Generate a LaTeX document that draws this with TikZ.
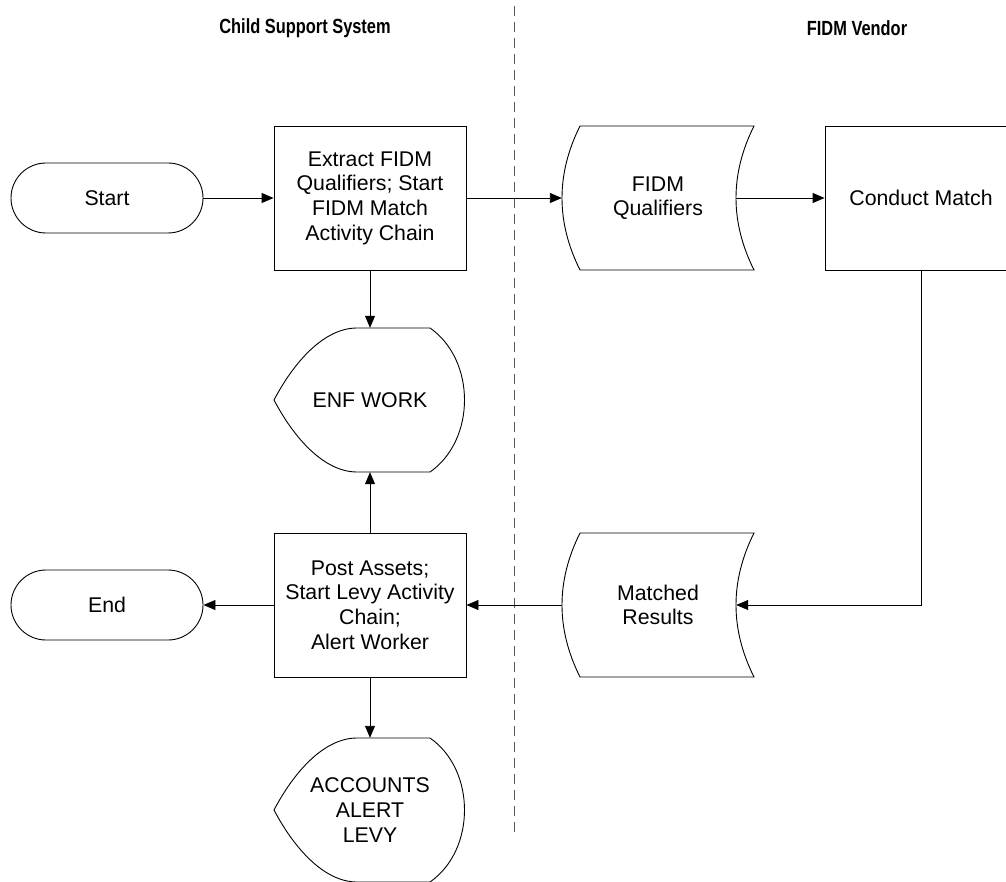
\documentclass[tikz,border=0pt]{standalone}
\usepackage{fontspec}
\setmainfont{Liberation Sans}
\newfontfamily\headfont[FakeStretch=0.8]{Liberation Sans}
\usetikzlibrary{arrows.meta,calc}
\begin{document}
\begin{tikzpicture}[x=1pt,y=-1pt,
  txt/.style={align=center, inner sep=0pt, font=\fontsize{21.3}{24.6}\selectfont},
  proc/.style={txt, draw, line width=0.9pt, minimum width=192pt, minimum height=144pt},
  term/.style={txt, draw, line width=0.9pt, rounded corners=35pt, minimum width=192pt, minimum height=70pt},
  free/.style={txt, minimum width=192pt, minimum height=144pt},
  outline/.style={draw, line width=0.9pt},
  arr/.style={line width=0.9pt, -{Triangle[length=12pt,width=10pt]}},
  head/.style={font=\headfont\bfseries\fontsize{20.5}{23}\selectfont},
  sep/.style={draw=black!65, line width=1pt, dash pattern=on 10pt off 6pt}
]
\useasboundingbox (0,0) rectangle (1006,882);
\clip (0,0) rectangle (1006,882);

% headers and separator
\node[head] (h1) at (305,28) {Child Support System};
\node[head] (h2) at (857,28) {FIDM Vendor};
\coordinate (s1) at (514,6);
\coordinate (s2) at (514,835);
\draw[sep] (s1) -- (s2);

% nodes
\node[term] (start) at (107,198) {Start};
\node[proc] (extract) at (370,198) {Extract FIDM\\Qualifiers; Start\\FIDM Match\\Activity Chain};
\node[free] (fq) at (658,198) {FIDM\\Qualifiers};
\node[proc] (cm) at (921,198) {Conduct Match};
\node[free] (enf) at (370,400) {ENF WORK};
\node[proc] (post) at (370,605) {Post Assets;\\Start Levy Activity\\Chain;\\Alert Worker};
\node[free] (mr) at (658,605) {Matched\\Results};
\node[term] (end) at (107,605) {End};
\node[free] (acc) at (370,810) {ACCOUNTS\\ALERT\\LEVY};

% stored data outlines
\foreach \n in {fq,mr}{
  \begin{scope}[shift={(\n.center)}]
    \draw[outline] (-78,-72) -- (96,-72)
      .. controls (72,-24) and (72,24) .. (96,72)
      -- (-78,72)
      .. controls (-102,24) and (-102,-24) .. (-78,-72) -- cycle;
  \end{scope}
}
% display outlines
\foreach \n in {enf,acc}{
  \begin{scope}[shift={(\n.center)}]
    \draw[outline] (-96,0) .. controls (-76,-38) and (-46,-72) .. (-13,-72)
      -- (60,-72)
      .. controls (106,-40) and (106,40) .. (60,72)
      -- (-13,72)
      .. controls (-46,72) and (-76,38) .. (-96,0) -- cycle;
  \end{scope}
}
\coordinate (fqR) at ($(fq.east)+(-18,0)$);
\coordinate (mrR) at ($(mr.east)+(-18,0)$);

% connectors
\draw[arr] (start.east) -- (extract.west);
\draw[arr] (extract.east) -- (fq.west);
\draw[arr] (fqR) -- (cm.west);
\draw[arr] (extract.south) -- (enf.north);
\draw[arr] (cm.south) |- (mrR);
\draw[arr] (mr.west) -- (post.east);
\draw[arr] (post.west) -- (end.east);
\draw[arr] (post.north) -- (enf.south);
\draw[arr] (post.south) -- (acc.north);
\end{tikzpicture}
\end{document}
